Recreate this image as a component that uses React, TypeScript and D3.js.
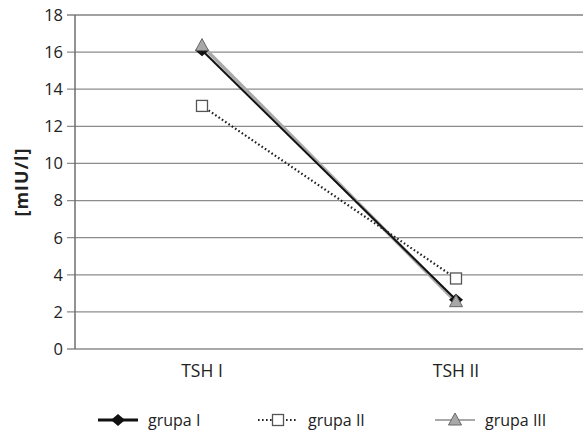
import { useEffect, useRef } from "react"
import * as d3 from "d3"

const categories = ["TSH I", "TSH II"]
const groupNames = ["grupa I", "grupa II", "grupa III"]
const grupa1 = [16.1, 2.65]
const grupa2 = [13.1, 3.8]
const grupa3 = [16.35, 2.55]
const yTicks = [0, 2, 4, 6, 8, 10, 12, 14, 16, 18]

const FONT = "'Open Sans', 'Noto Sans', sans-serif"

export default function App() {
  const svgRef = useRef<SVGSVGElement | null>(null)

  useEffect(() => {
    if (!svgRef.current) return
    const width = 583
    const height = 437
    const margin = { top: 15, right: 0, bottom: 88, left: 75 }

    const svg = d3.select(svgRef.current).attr("width", width).attr("height", height)
    svg.selectAll("*").remove()

    const x = d3
      .scaleBand<string>()
      .domain(categories)
      .range([margin.left, width - margin.right])

    const y = d3
      .scaleLinear()
      .domain([0, 18])
      .range([height - margin.bottom, margin.top])

    // gridlines
    svg
      .append("g")
      .selectAll("line")
      .data(yTicks)
      .join("line")
      .attr("x1", margin.left - 8)
      .attr("x2", width - margin.right)
      .attr("y1", d => y(d))
      .attr("y2", d => y(d))
      .attr("stroke", d => (d === 18 ? "#444" : "#8c8c8c"))
      .attr("stroke-width", d => (d === 18 ? 1.2 : 1.3))

    // y axis line
    svg
      .append("line")
      .attr("x1", margin.left)
      .attr("x2", margin.left)
      .attr("y1", y(18))
      .attr("y2", y(0))
      .attr("stroke", "#6e6e6e")
      .attr("stroke-width", 1.5)

    // y tick labels
    svg
      .append("g")
      .selectAll("text")
      .data(yTicks)
      .join("text")
      .attr("x", margin.left - 12)
      .attr("y", d => y(d))
      .attr("dy", "0.36em")
      .attr("text-anchor", "end")
      .attr("font-family", FONT)
      .attr("font-size", 16.5)
      .attr("fill", "#222")
      .text(d => d)

    // x labels
    svg
      .append("g")
      .selectAll("text")
      .data(categories)
      .join("text")
      .attr("x", d => (x(d) ?? 0) + x.bandwidth() / 2)
      .attr("y", y(0) + 28)
      .attr("text-anchor", "middle")
      .attr("font-family", FONT)
      .attr("font-size", 17.5)
      .attr("fill", "#222")
      .text(d => d)

    // y title
    svg
      .append("text")
      .attr("transform", `translate(28, ${(y(0) + y(18)) / 2}) rotate(-90)`)
      .attr("text-anchor", "middle")
      .attr("font-family", FONT)
      .attr("font-size", 18)
      .attr("font-weight", "bold")
      .attr("letter-spacing", 1)
      .attr("fill", "#222")
      .text("[mIU/l]")

    const cx = (i: number) => (x(categories[i]) ?? 0) + x.bandwidth() / 2
    const line = d3
      .line<number>()
      .x((_, i) => cx(i))
      .y(d => y(d))

    type Marker = "diamond" | "square" | "triangle"
    const drawMarker = (g: d3.Selection<SVGGElement, unknown, null, undefined>, kind: Marker, px: number, py: number) => {
      if (kind === "diamond") {
        g.append("path")
          .attr("d", `M${px},${py - 6}L${px + 7},${py}L${px},${py + 6}L${px - 7},${py}Z`)
          .attr("fill", "#111")
      } else if (kind === "square") {
        g.append("rect")
          .attr("x", px - 5.5)
          .attr("y", py - 5.5)
          .attr("width", 11)
          .attr("height", 11)
          .attr("fill", "#fff")
          .attr("stroke", "#555")
          .attr("stroke-width", 1.3)
      } else {
        g.append("path")
          .attr("d", `M${px},${py - 7}L${px + 6.5},${py + 5}L${px - 6.5},${py + 5}Z`)
          .attr("fill", "#a8a8a8")
          .attr("stroke", "#666")
          .attr("stroke-width", 1)
      }
    }

    const series: { values: number[]; color: string; width: number; dash: string | null; marker: Marker }[] = [
      { values: grupa3, color: "#a9a9a9", width: 3.5, dash: null, marker: "triangle" },
      { values: grupa1, color: "#111", width: 2, dash: null, marker: "diamond" },
      { values: grupa2, color: "#222", width: 2.2, dash: "1.6,2.4", marker: "square" },
    ]

    const plot = svg.append("g")
    series.forEach(s => {
      plot
        .append("path")
        .datum(s.values)
        .attr("fill", "none")
        .attr("stroke", s.color)
        .attr("stroke-width", s.width)
        .attr("stroke-dasharray", s.dash)
        .attr("d", line)
    })
    const markerOrder = [series[1], series[0], series[2]]
    markerOrder.forEach(s => {
      s.values.forEach((v, i) => drawMarker(plot, s.marker, cx(i), y(v)))
    })

    // legend
    const legendY = 420
    const legendItems: { name: string; x: number; s: (typeof series)[number] }[] = [
      { name: groupNames[0], x: 118, s: series[1] },
      { name: groupNames[1], x: 278, s: series[2] },
      { name: groupNames[2], x: 455, s: series[0] },
    ]
    const leg = svg.append("g")
    legendItems.forEach(item => {
      leg
        .append("line")
        .attr("x1", item.x - 20)
        .attr("x2", item.x + 20)
        .attr("y1", legendY)
        .attr("y2", legendY)
        .attr("stroke", item.s.marker === "triangle" ? "#a9a9a9" : item.s.color)
        .attr("stroke-width", item.s.marker === "diamond" ? 3 : 2)
        .attr("stroke-dasharray", item.s.dash)
      drawMarker(leg, item.s.marker, item.x, legendY)
      leg
        .append("text")
        .attr("x", item.x + 30)
        .attr("y", legendY)
        .attr("dy", "0.35em")
        .attr("font-family", FONT)
        .attr("font-size", 16)
        .attr("fill", "#222")
        .text(item.name)
    })
  }, [])

  return (
    <div style={{ position: "absolute", top: 0, left: 0 }}>
      <svg ref={svgRef} style={{ display: "block" }} />
    </div>
  )
}
